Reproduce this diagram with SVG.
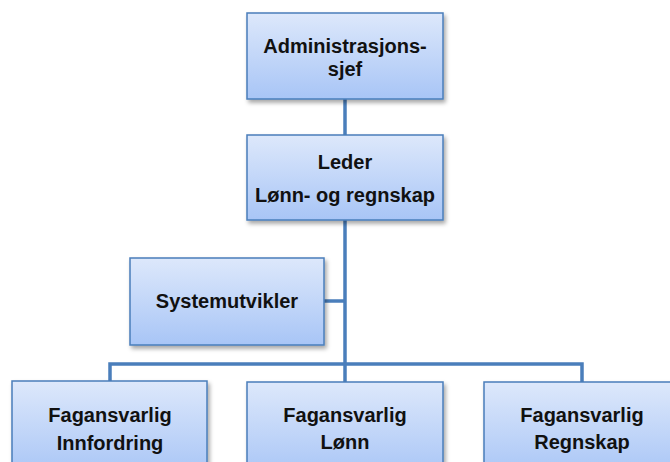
<svg xmlns="http://www.w3.org/2000/svg" width="670" height="462" viewBox="0 0 670 462">
<style>
.box{fill:url(#g);stroke:#4a7ebb;stroke-width:1.5;filter:url(#sh)}
.t{font-family:"Liberation Sans",Arial,sans-serif;font-weight:bold;font-size:20px;fill:#111;text-anchor:middle}
.c{fill:none;stroke:#4a7ebb;stroke-width:3.5}
</style>
<defs>
<linearGradient id="g" x1="0" y1="0" x2="0" y2="1">
<stop offset="0" stop-color="#dde8fb"/>
<stop offset="1" stop-color="#a8c5f6"/>
</linearGradient>
<filter id="sh" x="-10%" y="-10%" width="125%" height="130%">
<feDropShadow dx="2" dy="3" stdDeviation="2" flood-color="#000" flood-opacity="0.35"/>
</filter>
</defs>
<g id="connectors">
<path class="c" d="M345 99V364"/>
<path class="c" d="M324 301H345"/>
<path class="c" d="M110 381V364H582V382"/>
<path class="c" d="M345 364V382"/>
</g>
<g id="admin">
<rect class="box" x="247" y="13" width="196" height="86"/>
<text class="t" x="345" y="53">Administrasjons-</text>
<text class="t" x="345" y="76">sjef</text>
</g>
<g id="leder">
<rect class="box" x="247" y="135" width="196" height="85"/>
<text class="t" x="345" y="169">Leder</text>
<text class="t" x="345" y="202">Lønn- og regnskap</text>
</g>
<g id="system">
<rect class="box" x="130" y="258" width="194" height="87"/>
<text class="t" x="227" y="308">Systemutvikler</text>
</g>
<g id="innfordring">
<rect class="box" x="12" y="381" width="195" height="95"/>
<text class="t" x="110" y="422">Fagansvarlig</text>
<text class="t" x="110" y="450">Innfordring</text>
</g>
<g id="lonn">
<rect class="box" x="247" y="382" width="196" height="95"/>
<text class="t" x="345" y="422">Fagansvarlig</text>
<text class="t" x="345" y="449">Lønn</text>
</g>
<g id="regnskap">
<rect class="box" x="484" y="382" width="196" height="95"/>
<text class="t" x="582" y="422">Fagansvarlig</text>
<text class="t" x="582" y="449">Regnskap</text>
</g>
</svg>
